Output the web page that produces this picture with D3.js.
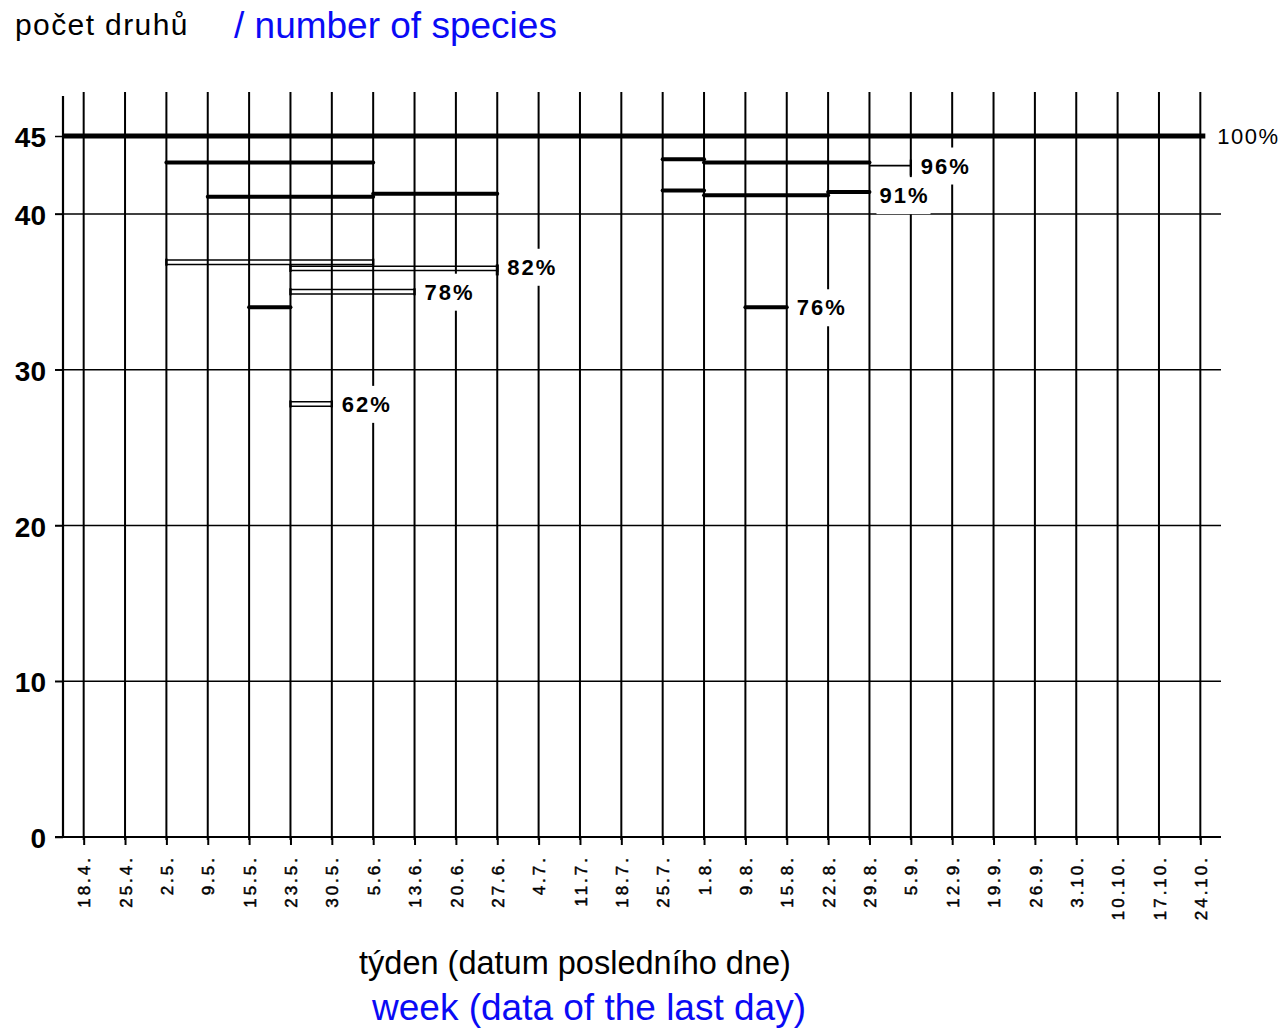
<!DOCTYPE html>
<html><head><meta charset="utf-8">
<script src="https://cdn.jsdelivr.net/npm/d3@7"></script>
<style>body{margin:0;background:#fff}svg{display:block}</style>
</head><body>
<svg id="c" width="1283" height="1028"></svg>
<script>
// ---- data ----
const weeks = ["18.4.","25.4.","2.5.","9.5.","15.5.","23.5.","30.5.","5.6.","13.6.","20.6.","27.6.","4.7.","11.7.","18.7.","25.7.","1.8.","9.8.","15.8.","22.8.","29.8.","5.9.","12.9.","19.9.","26.9.","3.10.","10.10.","17.10.","24.10."];
const yTicks = [0, 10, 20, 30, 40, 45];
const gridValues = [0, 10, 20, 30, 40];
const totalSpecies = 45;
// thick segments: [from week, to week, number of species]
const thickSegs = [
  ["2.5.", "5.6.", 43.3],
  ["9.5.", "5.6.", 41.1],
  ["5.6.", "27.6.", 41.3],
  ["15.5.", "23.5.", 34],
  ["25.7.", "1.8.", 43.5],
  ["1.8.", "29.8.", 43.3],
  ["25.7.", "1.8.", 41.5],
  ["1.8.", "22.8.", 41.2],
  ["22.8.", "29.8.", 41.4],
  ["9.8.", "15.8.", 34]
];
// double (open) segments
const doubleSegs = [
  ["2.5.", "5.6.", 36.9],
  ["23.5.", "27.6.", 36.5],
  ["23.5.", "13.6.", 35.0],
  ["23.5.", "30.5.", 27.8]
];
// thin connectors ending in a tick
const thinSegs = [
  ["29.8.", "5.9.", 43.1]
];
// percentage labels: [text, week after which it stands, species]
const pctLabels = [
  ["100%", "24.10.", 45],
  ["96%", "5.9.", 43.1],
  ["91%", "29.8.", 41.2],
  ["82%", "27.6.", 36.6],
  ["78%", "13.6.", 35.0],
  ["76%", "15.8.", 34],
  ["62%", "30.5.", 27.8]
];

// ---- drawing ----
const svg = d3.select("#c");
const x = d3.scaleLinear().domain([-0.5, weeks.length - 0.5]).range([63, 1221]);
const y = d3.scaleLinear().domain([0, totalSpecies]).range([837, 136]);
const wx = w => x(weeks.indexOf(w));

const blue = "#0a0af5";
const font = "'Liberation Sans', Arial, sans-serif";

// horizontal grid lines
svg.append("g").selectAll("line").data(gridValues).join("line")
  .attr("x1", 55).attr("x2", 1221)
  .attr("y1", d => y(d)).attr("y2", d => y(d))
  .attr("stroke", "#000").attr("stroke-width", d => d === 0 ? 2.2 : 1.5);

// week vertical lines
svg.append("g").selectAll("line").data(weeks).join("line")
  .attr("x1", (d, i) => x(i)).attr("x2", (d, i) => x(i))
  .attr("y1", 92).attr("y2", 840)
  .attr("stroke", "#000").attr("stroke-width", 2);

// y axis line
svg.append("line").attr("x1", x(-0.5)).attr("x2", x(-0.5))
  .attr("y1", 96).attr("y2", 838).attr("stroke", "#000").attr("stroke-width", 2.2);

// 100% line
svg.append("line").attr("x1", x(-0.5)).attr("x2", x(weeks.length - 1) + 5)
  .attr("y1", y(totalSpecies)).attr("y2", y(totalSpecies))
  .attr("stroke", "#000").attr("stroke-width", 5);

// thick segments
svg.append("g").selectAll("line").data(thickSegs).join("line")
  .attr("x1", d => wx(d[0])).attr("x2", d => wx(d[1]))
  .attr("y1", d => y(d[2])).attr("y2", d => y(d[2]))
  .attr("stroke", "#000").attr("stroke-width", 4).attr("stroke-linecap", "round");

// thin connectors with end tick
const thinG = svg.append("g");
thinSegs.forEach(d => {
  thinG.append("line").attr("x1", wx(d[0])).attr("x2", wx(d[1]))
    .attr("y1", y(d[2])).attr("y2", y(d[2])).attr("stroke", "#000").attr("stroke-width", 1.8);
  thinG.append("line").attr("x1", wx(d[1])).attr("x2", wx(d[1]))
    .attr("y1", y(d[2]) - 6).attr("y2", y(d[2]) + 10).attr("stroke", "#000").attr("stroke-width", 2.2);
});

// double segments
const dblG = svg.append("g");
doubleSegs.forEach(d => {
  const x1 = wx(d[0]), x2 = wx(d[1]), yy = y(d[2]);
  [-2.2, 2.2].forEach(o => dblG.append("line").attr("x1", x1).attr("x2", x2)
    .attr("y1", yy + o).attr("y2", yy + o).attr("stroke", "#000").attr("stroke-width", 1.5));
  [x1, x2].forEach(xx => dblG.append("line").attr("x1", xx).attr("x2", xx)
    .attr("y1", yy - 3.5).attr("y2", yy + 3.5).attr("stroke", "#000").attr("stroke-width", 2.4));
});
// end stub of 82% line
svg.append("line").attr("x1", wx("27.6.")).attr("x2", wx("27.6."))
  .attr("y1", y(36.5) - 4).attr("y2", y(36.5) + 7).attr("stroke", "#000").attr("stroke-width", 3);

// y axis ticks & labels
const yAx = svg.append("g").attr("transform", `translate(${x(-0.5)},0)`)
  .call(d3.axisLeft(y).tickValues(yTicks).tickSize(8).tickPadding(9).tickFormat(d3.format("d")));
yAx.select(".domain").remove();
yAx.selectAll("line").attr("stroke", "#000").attr("stroke-width", 1.5);
yAx.selectAll("text").attr("font-family", font).attr("font-size", 28).attr("font-weight", "bold")
  .attr("fill", "#000").attr("dy", "0.38em");

// x axis ticks & labels
const xAx = svg.append("g").attr("transform", `translate(0,${y(0)})`)
  .call(d3.axisBottom(x).tickValues(d3.range(weeks.length)).tickSize(8).tickFormat(i => weeks[i]));
xAx.select(".domain").remove();
xAx.selectAll("line").attr("stroke", "#000").attr("stroke-width", 2);
xAx.selectAll("text")
  .attr("font-family", font).attr("font-size", 17).attr("letter-spacing", "3px").attr("fill", "#000")
  .attr("stroke", "#000").attr("stroke-width", 0.5)
  .attr("transform", "rotate(-90)").attr("text-anchor", "end")
  .attr("x", -18).attr("y", 0).attr("dy", "0.36em");

// percentage labels with white background
const bgG = svg.append("g");
const lblG = svg.append("g");
pctLabels.forEach(d => {
  const big = d[0] === "100%";
  const t = lblG.append("text")
    .attr("x", wx(d[1]) + (big ? 17 : 10)).attr("y", y(d[2])).attr("dy", "0.36em")
    .attr("font-family", font).attr("font-size", 22)
    .attr("font-weight", big ? "normal" : "bold").attr("letter-spacing", big ? "1.5px" : "2px")
    .attr("fill", "#000").text(d[0]);
  const b = t.node().getBBox();
  bgG.append("rect")
    .attr("x", b.x - 3).attr("y", b.y - 6).attr("width", b.width + 4).attr("height", b.height + 12)
    .attr("fill", "#fff");
});

// titles
svg.append("text").attr("x", 15).attr("y", 35).attr("font-family", font).attr("font-size", 30)
  .attr("letter-spacing", "1.4px").attr("fill", "#000").text("počet druhů");
svg.append("text").attr("x", 234).attr("y", 38).attr("font-family", font).attr("font-size", 37)
  .attr("fill", blue).text("/ number of species");
svg.append("text").attr("x", 575).attr("y", 974).attr("text-anchor", "middle").attr("font-family", font)
  .attr("font-size", 32.5).attr("fill", "#000").text("týden (datum posledního dne)");
svg.append("text").attr("x", 589).attr("y", 1020).attr("text-anchor", "middle").attr("font-family", font)
  .attr("font-size", 37).attr("fill", blue).text("week (data of the last day)");
</script>
</body></html>
